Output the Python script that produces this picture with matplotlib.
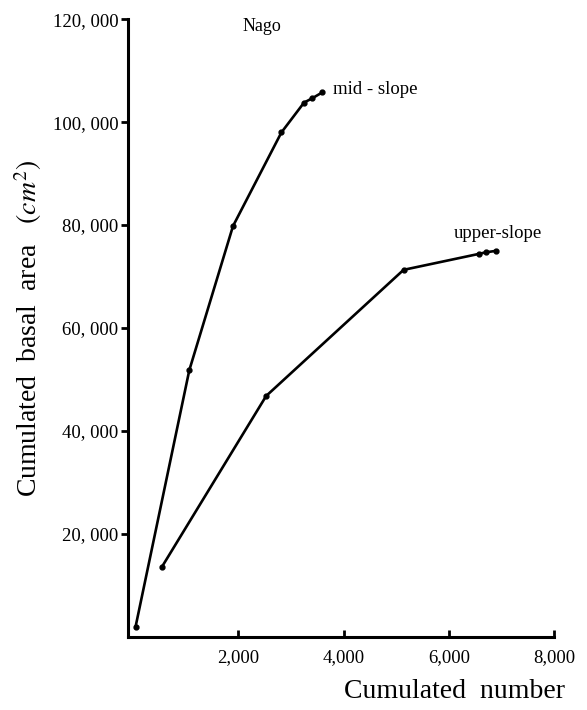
from matplotlib import pyplot
import matplotlib

# values
mid_number = [50, 1070, 1900, 2820, 3250, 3400, 3600]
mid_area = [2000, 51800, 79800, 98000, 103800, 104600, 105800]
upper_number = [550, 2530, 5140, 6570, 6700, 6900]
upper_area = [13600, 46800, 71300, 74400, 74700, 75000]

x_ticks = [2000, 4000, 6000, 8000]
x_ticklabels = ["2,000", "4,000", "6,000", "8,000"]
y_ticks = [20000, 40000, 60000, 80000, 100000, 120000]
y_ticklabels = ["20, 000", "40, 000", "60, 000", "80, 000", "100, 000", "120, 000"]


def main():
    matplotlib.rcParams['font.family'] = ['Liberation Serif', 'DejaVu Serif']
    matplotlib.rcParams['mathtext.fontset'] = 'stix'

    fig = pyplot.figure(figsize=(5.87, 7.10), dpi=100)
    ax = fig.add_axes([0.218, 0.103, 0.726, 0.870])

    ax.plot(mid_number, mid_area, "-o", color="black", lw=1.9, ms=3.5)
    ax.plot(upper_number, upper_area, "-o", color="black", lw=1.9, ms=3.5)

    ax.text(2450, 118500, "Nago", fontsize=13, ha="center", va="center")
    ax.text(3800, 106300, "mid - slope", fontsize=13.5, va="center")
    ax.text(6100, 78300, "upper-slope", fontsize=13.5, va="center")

    ax.set_xlim(-95, 8000)
    ax.set_ylim(0, 120000)
    ax.set_xticks(x_ticks)
    ax.set_xticklabels(x_ticklabels, fontsize=13.5)
    ax.set_yticks(y_ticks)
    ax.set_yticklabels(y_ticklabels, fontsize=13.5)
    ax.tick_params(axis="x", direction="in", length=5, width=2, pad=9)
    ax.tick_params(axis="y", direction="out", length=5, width=2, pad=2)

    for side in ["top", "right"]:
        ax.spines[side].set_visible(False)
    for side in ["left", "bottom"]:
        ax.spines[side].set_linewidth(2.2)

    ax.set_xlabel("Cumulated  number", fontsize=20)
    ax.xaxis.set_label_coords(1.026, -0.068)
    ax.xaxis.label.set_horizontalalignment("right")
    ax.set_ylabel(r"Cumulated  basal  area   $(cm^2)$", fontsize=20)
    ax.yaxis.set_label_coords(-0.198, 0.50)

    pyplot.savefig("out.png", dpi=100)
    pyplot.close()


if __name__ == '__main__':
    main()
